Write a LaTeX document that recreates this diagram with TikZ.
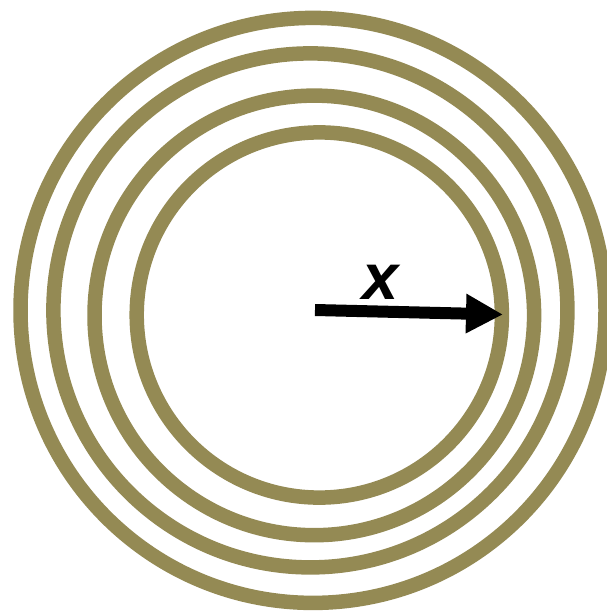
\documentclass[tikz,border=0pt]{standalone}
\usepackage{fontspec}
\setsansfont{Liberation Sans}
\usetikzlibrary{arrows.meta}
\definecolor{ringolive}{HTML}{948A54}

\begin{document}
\begin{tikzpicture}[
  x=1pt, y=-1pt,
  ring/.style={draw=ringolive, line width=14.5pt},
  radiusarrow/.style={-{Triangle[length=37pt, width=37pt]}, line width=12pt, black},
  varlabel/.style={font=\sffamily\bfseries\itshape\fontsize{65}{65}\selectfont, inner sep=0pt},
]
  \useasboundingbox (0,0) rectangle (606,612);
  % Rings
  \foreach \cx/\cy/\r in {313/310.4/292.5, 310.4/310.4/257, 314.3/315.4/219.8, 319.3/315/182.6} {
    \draw[ring] (\cx,\cy) circle (\r);
  }
  % Radius arrow
  \coordinate (c) at (315,310);
  \coordinate (t) at (503,314.5);
  \draw[radiusarrow] (c) -- (t);
  \node[varlabel] (xlab) at (381,282) {x};
\end{tikzpicture}
\end{document}
